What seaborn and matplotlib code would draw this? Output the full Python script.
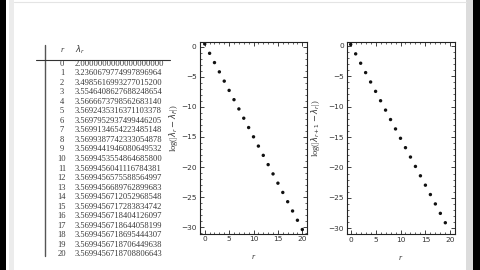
import matplotlib
matplotlib.use("Agg")
import matplotlib.pyplot as plt
from matplotlib.patches import Rectangle
from matplotlib.lines import Line2D
from matplotlib.ticker import MultipleLocator
import seaborn as sns
import pandas as pd

# ---- data ----
r_table = list(range(21))
lam_values = [
    "2.0000000000000000000",
    "3.2360679774997896964",
    "3.4985616993277015200",
    "3.5546408627688248654",
    "3.5666673798562683140",
    "3.5692435316371103378",
    "3.5697952937499446205",
    "3.5699134654223485148",
    "3.5699387742333054878",
    "3.5699441946080649532",
    "3.5699453554864685800",
    "3.5699456041116784381",
    "3.5699456575588564997",
    "3.5699456689762899683",
    "3.5699456712052968548",
    "3.5699456717283834742",
    "3.5699456718404126097",
    "3.5699456718644058199",
    "3.5699456718695444307",
    "3.5699456718706449638",
    "3.5699456718708806643",
]
r_left = list(range(21))
log_diff_F = [0.45, -1.10, -2.64, -4.18, -5.72, -7.26, -8.80, -10.34, -11.88, -13.43,
              -14.97, -16.51, -18.05, -19.59, -21.13, -22.67, -24.21, -25.75, -27.29,
              -28.83, -30.37]
r_right = list(range(20))
log_diff_next = [0.21, -1.34, -2.88, -4.42, -5.96, -7.50, -9.04, -10.58, -12.13, -13.67,
                 -15.21, -16.75, -18.29, -19.83, -21.37, -22.91, -24.45, -25.99, -27.54,
                 -29.08]

sns.set_theme(style="white")
plt.rcParams["font.family"] = ["DejaVu Sans"]

W, H = 480, 270
fig = plt.figure(figsize=(4.8, 2.7), dpi=100)
fig.patch.set_facecolor("white")

def px_rect(x0, y0, x1, y1, color, z=0):
    fig.patches.append(Rectangle((x0 / W, 1 - y1 / H), (x1 - x0) / W, (y1 - y0) / H,
                                 transform=fig.transFigure, facecolor=color,
                                 edgecolor="none", zorder=z))

def px_line(x0, y0, x1, y1, color, lw):
    fig.lines.append(Line2D([x0 / W, x1 / W], [1 - y0 / H, 1 - y1 / H],
                            transform=fig.transFigure, color=color, lw=lw))

# window frame
px_rect(0, 0, 6, 270, "black")
px_rect(9, 0, 14, 270, "#ececec")
px_rect(466, 0, 473, 270, "#dcdcdc")
px_rect(473, 0, 480, 270, "black")
px_line(14, 2, 466, 2, "#e4e4e4", 0.8)

# table
tfont = dict(family="Liberation Serif", fontsize=6.1, color="#3a3a3a")
fig.text(62 / W, 1 - 50 / H, "r", ha="center", va="center", style="italic", **tfont)
fig.text(75 / W, 1 - 50 / H, r"$\lambda_r$", ha="left", va="center", **tfont)
row0, dy = 63.5, 9.55
for i, (rv, lv) in enumerate(zip(r_table, lam_values)):
    y = 1 - (row0 + i * dy) / H
    fig.text(62 / W, y, str(rv), ha="center", va="center", **tfont)
    fig.text(75 / W, y, lv, ha="left", va="center", **tfont)
px_line(45, 45, 45, 256, "#555555", 1.0)
px_line(36, 59.5, 170, 59.5, "#333333", 0.8)

def style_axes(ax, xlim, ylim):
    ax.set_xlim(*xlim)
    ax.set_ylim(*ylim)
    ax.xaxis.set_major_locator(MultipleLocator(5))
    ax.xaxis.set_minor_locator(MultipleLocator(1))
    ax.yaxis.set_major_locator(MultipleLocator(5))
    ax.yaxis.set_minor_locator(MultipleLocator(1))
    ax.tick_params(which="both", direction="in", top=True, right=True,
                   bottom=True, left=True, colors="#222222", labelcolor="#333333",
                   labelsize=5.3, pad=2)
    ax.tick_params(which="major", length=3, width=0.6)
    ax.tick_params(which="minor", length=1.6, width=0.5)
    for s in ax.spines.values():
        s.set_visible(True)
        s.set_color("#222222")
        s.set_linewidth(0.8)
    ax.set_facecolor("white")

lab = dict(fontsize=6, color="#333333", family="Liberation Serif")

ax1 = fig.add_axes([199.5 / W, 1 - 233.5 / H, 107.5 / W, 191.5 / H])
df1 = pd.DataFrame({"r": r_left, "v": log_diff_F})
sns.scatterplot(data=df1, x="r", y="v", ax=ax1, color="#111111", s=6, edgecolor="none")
style_axes(ax1, (-1.07, 20.96), (-31.03, 0.78))
ax1.set_xlabel("r", style="italic", labelpad=8, **lab)
ax1.set_ylabel(r"log(|$\lambda_r - \lambda_F$|)", **lab)
ax1.yaxis.set_label_coords(-0.18, 0.55)

ax2 = fig.add_axes([347 / W, 1 - 234 / H, 107.5 / W, 192.5 / H])
df2 = pd.DataFrame({"r": r_right, "v": log_diff_next})
sns.scatterplot(data=df2, x="r", y="v", ax=ax2, color="#111111", s=6, edgecolor="none")
style_axes(ax2, (-0.74, 20.84), (-30.93, 0.69))
ax2.set_xlabel("r", style="italic", labelpad=8, **lab)
ax2.set_ylabel(r"log(|$\lambda_{r+1} - \lambda_r$|)", **lab)
ax2.yaxis.set_label_coords(-0.23, 0.55)

fig.savefig("out.png", dpi=100, facecolor="white")
